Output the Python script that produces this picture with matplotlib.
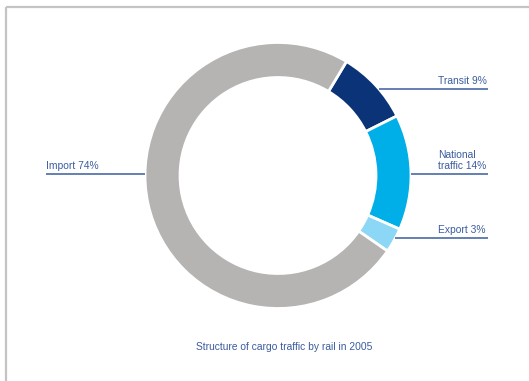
import numpy as np
import matplotlib
matplotlib.use("Agg")
import matplotlib.pyplot as plt

# Cargo traffic by rail, 2005 (share in %)
categories = ["Transit", "National traffic", "Export", "Import"]
shares = [9, 14, 3, 74]
label_texts = ["Transit 9%", "National\ntraffic 14%", "Export 3%", "Import 74%"]
colors = ["#0b3478", "#00aee8", "#8bd7f5", "#b5b4b2"]

title = "Structure of cargo traffic by rail in 2005"
text_blue = "#3b5c9e"

W, H = 529, 381
fig = plt.figure(figsize=(W / 100, H / 100), dpi=100)
ax = fig.add_axes([0, 0, 1, 1])

cx, cy = 278, H - 175.5
R = 133
ring = 35

ax.pie(shares, colors=colors, startangle=59, counterclock=False,
       center=(cx, cy), radius=R, frame=True,
       wedgeprops=dict(width=ring, edgecolor="white", linewidth=2))
ax.set_xlim(0, W)
ax.set_ylim(0, H)
ax.set_aspect("equal")
ax.axis("off")

# label rows: (line y in px from top, side)
rows = [(89.3, "right"), (174.3, "right"), (238.3, "right"), (174.3, "left")]
x_right_end = 488
x_left_end = 46
font = dict(fontsize=7.4, family="Liberation Sans", color=text_blue)
for text, (py, side) in zip(label_texts, rows):
    y = H - py
    dx = np.sqrt(max(R**2 - (y - cy)**2, 0))
    if side == "right":
        x0 = cx + dx
        ax.plot([x0, x_right_end], [y, y], color=text_blue, lw=1.1,
                solid_capstyle="butt")
        ax.text(438, y + 3.5, text, ha="left", va="bottom",
                multialignment="left", linespacing=1.15, **font)
    else:
        x0 = cx - dx
        ax.plot([x_left_end, x0], [y, y], color=text_blue, lw=1.1,
                solid_capstyle="butt")
        ax.text(x_left_end, y + 3.5, text, ha="left", va="bottom", **font)

ax.text(284, H - 347, title, ha="center", va="center", **font)

# page frame
frame_c = "#c4c4c4"
ax.plot([6, W], [H - 7, H - 7], color=frame_c, lw=1.6, solid_capstyle="butt")
ax.plot([6, 6], [H - 7, 0], color=frame_c, lw=1.6, solid_capstyle="butt")

fig.savefig("out.png", dpi=100, facecolor="white")
